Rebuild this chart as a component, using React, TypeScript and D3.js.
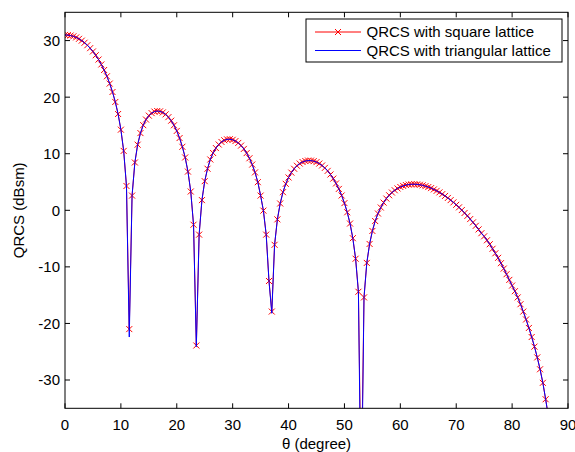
import React from 'react';
import * as d3 from 'd3';

// θ (degree) sample grid
const theta = [
  0, 0.5, 1, 1.5, 2, 2.5, 3, 3.5, 4, 4.5, 5, 5.5, 6, 6.5, 7, 7.5, 8, 8.5, 9, 9.5,
  10, 10.5, 11, 11.5, 12, 12.5, 13, 13.5, 14, 14.5, 15, 15.5, 16, 16.5, 17, 17.5, 18, 18.5, 19, 19.5,
  20, 20.5, 21, 21.5, 22, 22.5, 23, 23.5, 24, 24.5, 25, 25.5, 26, 26.5, 27, 27.5, 28, 28.5, 29, 29.5,
  30, 30.5, 31, 31.5, 32, 32.5, 33, 33.5, 34, 34.5, 35, 35.5, 36, 36.5, 37, 37.5, 38, 38.5, 39, 39.5,
  40, 40.5, 41, 41.5, 42, 42.5, 43, 43.5, 44, 44.5, 45, 45.5, 46, 46.5, 47, 47.5, 48, 48.5, 49, 49.5,
  50, 50.5, 51, 51.5, 52, 52.5, 53, 53.5, 54, 54.5, 55, 55.5, 56, 56.5, 57, 57.5, 58, 58.5, 59, 59.5,
  60, 60.5, 61, 61.5, 62, 62.5, 63, 63.5, 64, 64.5, 65, 65.5, 66, 66.5, 67, 67.5, 68, 68.5, 69, 69.5,
  70, 70.5, 71, 71.5, 72, 72.5, 73, 73.5, 74, 74.5, 75, 75.5, 76, 76.5, 77, 77.5, 78, 78.5, 79, 79.5,
  80, 80.5, 81, 81.5, 82, 82.5, 83, 83.5, 84, 84.5, 85, 85.5, 86, 86.5, 87,
];

// QRCS with square lattice (dBsm)
const squareLattice = [
  31.0, 30.97, 30.89, 30.75, 30.56, 30.31, 29.99, 29.62, 29.18, 28.66, 28.08, 27.41, 26.65, 25.78, 24.8, 23.69, 22.4, 20.91, 19.15, 17.02,
  14.25, 10.5, 4.3, -21.0, 2.6, 8.45, 11.6, 13.65, 15.05, 16.04, 16.73, 17.18, 17.45, 17.55, 17.49, 17.3, 16.96, 16.47, 15.84, 15.03,
  14.03, 12.77, 11.23, 9.34, 6.84, 3.32, -2.55, -23.9, -4.3, 1.8, 5.15, 7.35, 8.98, 10.13, 11.0, 11.63, 12.08, 12.38, 12.54, 12.57,
  12.46, 12.24, 11.91, 11.44, 10.85, 10.11, 9.2, 8.09, 6.7, 4.97, 2.6, -0.06, -4.3, -12.5, -17.9, -6.1, -1.6, 1.2, 3.2, 4.68,
  5.8, 6.66, 7.34, 7.87, 8.26, 8.54, 8.71, 8.79, 8.78, 8.69, 8.52, 8.26, 7.92, 7.5, 6.97, 6.33, 5.6, 4.75, 3.78, 2.62,
  1.27, -0.35, -2.34, -4.93, -8.56, -14.4, -50.0, -15.4, -9.3, -5.95, -3.65, -1.9, -0.57, 0.49, 1.36, 2.07, 2.66, 3.14, 3.54, 3.86,
  4.12, 4.31, 4.46, 4.55, 4.6, 4.61, 4.58, 4.51, 4.41, 4.27, 4.11, 3.92, 3.69, 3.44, 3.17, 2.86, 2.54, 2.18, 1.8, 1.4,
  0.97, 0.52, 0.04, -0.47, -0.99, -1.55, -2.13, -2.74, -3.38, -4.05, -4.6, -5.3, -6.0, -6.8, -7.6, -8.4, -9.35, -10.3, -11.3, -12.3,
  -13.3, -14.3, -15.4, -16.6, -17.9, -19.3, -20.8, -22.4, -24.1, -26.0, -28.1, -30.5, -33.4, -36.5, -40.0,
];

// QRCS with triangular lattice (dBsm)
const triangularLattice = [
  31.0, 30.97, 30.89, 30.75, 30.56, 30.31, 29.99, 29.62, 29.18, 28.66, 28.08, 27.41, 26.65, 25.78, 24.8, 23.69, 22.4, 20.91, 19.15, 17.02,
  14.25, 10.5, 4.3, -22.4, 2.6, 8.45, 11.6, 13.65, 15.05, 16.04, 16.73, 17.18, 17.45, 17.55, 17.49, 17.3, 16.96, 16.47, 15.84, 15.03,
  14.03, 12.77, 11.23, 9.34, 6.84, 3.32, -2.55, -24.1, -4.3, 1.8, 5.15, 7.35, 8.98, 10.13, 11.0, 11.63, 12.08, 12.38, 12.54, 12.57,
  12.46, 12.24, 11.91, 11.44, 10.85, 10.11, 9.2, 8.09, 6.7, 4.97, 2.6, -0.06, -4.3, -12.5, -18.2, -6.1, -1.6, 1.2, 3.2, 4.68,
  5.8, 6.66, 7.34, 7.87, 8.26, 8.54, 8.71, 8.79, 8.78, 8.69, 8.52, 8.26, 7.92, 7.5, 6.97, 6.33, 5.6, 4.75, 3.78, 2.62,
  1.27, -0.35, -2.34, -4.93, -8.56, -14.4, -55.0, -15.4, -9.3, -5.95, -3.65, -1.9, -0.57, 0.49, 1.36, 2.07, 2.66, 3.14, 3.54, 3.86,
  4.12, 4.31, 4.46, 4.55, 4.6, 4.61, 4.58, 4.51, 4.41, 4.27, 4.11, 3.92, 3.69, 3.44, 3.17, 2.86, 2.54, 2.18, 1.8, 1.4,
  0.97, 0.52, 0.04, -0.47, -0.99, -1.55, -2.13, -2.74, -3.38, -4.05, -4.6, -5.3, -6.0, -6.8, -7.6, -8.4, -9.35, -10.3, -11.3, -12.3,
  -13.3, -14.3, -15.4, -16.6, -17.9, -19.3, -20.8, -22.4, -24.1, -26.0, -28.1, -30.5, -33.4, -36.5, -40.0,
];

const xTicks = [0, 10, 20, 30, 40, 50, 60, 70, 80, 90];
const yTicks = [-30, -20, -10, 0, 10, 20, 30];
const seriesNames = ['QRCS with square lattice', 'QRCS with triangular lattice'];
const xLabel = 'θ (degree)';
const yLabel = 'QRCS (dBsm)';

const W = 575;
const H = 452;
const L = 65;
const R = 568;
const T = 12.3;
const B = 408.3;
const FONT = '"Liberation Sans", Arial, Helvetica, sans-serif';

export default function App() {
  const x = d3.scaleLinear().domain([0, 90]).range([L, R]);
  const y = d3.scaleLinear().domain([-35, 35]).range([B, T]);

  const mk = (vals: number[]) =>
    d3
      .line<number>()
      .x((_, i) => x(theta[i]))
      .y((d) => y(d))(vals) || '';

  const markerPath = squareLattice
    .map((v, i) => {
      const px = x(theta[i]);
      const py = y(v);
      const s = 3;
      return `M${px - s},${py - s}L${px + s},${py + s}M${px - s},${py + s}L${px + s},${py - s}`;
    })
    .join('');

  const tickLen = 5;

  return (
    <svg
      width={W}
      height={H}
      style={{ position: 'absolute', left: 0, top: 0, background: '#fff' }}
      fontFamily={FONT}
    >
      <rect x={0} y={0} width={W} height={H} fill="#fff" />
      <defs>
        <clipPath id="plotClip">
          <rect x={L} y={T} width={R - L} height={B - T} />
        </clipPath>
      </defs>

      <g clipPath="url(#plotClip)">
        <path d={mk(squareLattice)} fill="none" stroke="#ff0000" strokeWidth={1} />
        <path d={markerPath} fill="none" stroke="#ff0000" strokeWidth={1} />
        <path d={mk(triangularLattice)} fill="none" stroke="#0000ff" strokeWidth={1} />
      </g>

      {/* axes box */}
      <rect x={L} y={T} width={R - L} height={B - T} fill="none" stroke="#000" strokeWidth={1} />

      {/* x ticks */}
      {xTicks.map((t) => (
        <g key={'x' + t}>
          <line x1={x(t)} x2={x(t)} y1={B} y2={B - tickLen} stroke="#000" strokeWidth={1} />
          <line x1={x(t)} x2={x(t)} y1={T} y2={T + tickLen} stroke="#000" strokeWidth={1} />
          <text x={x(t)} y={430} fontSize={15} textAnchor="middle" fill="#000">
            {t}
          </text>
        </g>
      ))}

      {/* y ticks */}
      {yTicks.map((t) => (
        <g key={'y' + t}>
          <line x1={L} x2={L + tickLen} y1={y(t)} y2={y(t)} stroke="#000" strokeWidth={1} />
          <line x1={R} x2={R - tickLen} y1={y(t)} y2={y(t)} stroke="#000" strokeWidth={1} />
          <text x={L - 5} y={y(t)} dy="0.36em" fontSize={15} textAnchor="end" fill="#000">
            {t}
          </text>
        </g>
      ))}

      {/* axis labels */}
      <text x={(L + R) / 2} y={449} fontSize={15} textAnchor="middle" fill="#000">
        {xLabel}
      </text>
      <text
        transform={`translate(24,${(T + B) / 2}) rotate(-90)`}
        fontSize={15}
        textAnchor="middle"
        fill="#000"
      >
        {yLabel}
      </text>

      {/* legend */}
      <g>
        <rect x={306} y={19} width={256} height={43} fill="#fff" stroke="#000" strokeWidth={1} />
        <line x1={315} x2={361} y1={32} y2={32} stroke="#ff0000" strokeWidth={1} />
        <path d="M335,29L341,35M335,35L341,29" stroke="#ff0000" strokeWidth={1} fill="none" />
        <text x={366.5} y={32} dy="0.36em" fontSize={15} fill="#000">
          {seriesNames[0]}
        </text>
        <line x1={315} x2={361} y1={50.5} y2={50.5} stroke="#0000ff" strokeWidth={1} />
        <text x={366.5} y={50.5} dy="0.36em" fontSize={15} fill="#000">
          {seriesNames[1]}
        </text>
      </g>
    </svg>
  );
}
